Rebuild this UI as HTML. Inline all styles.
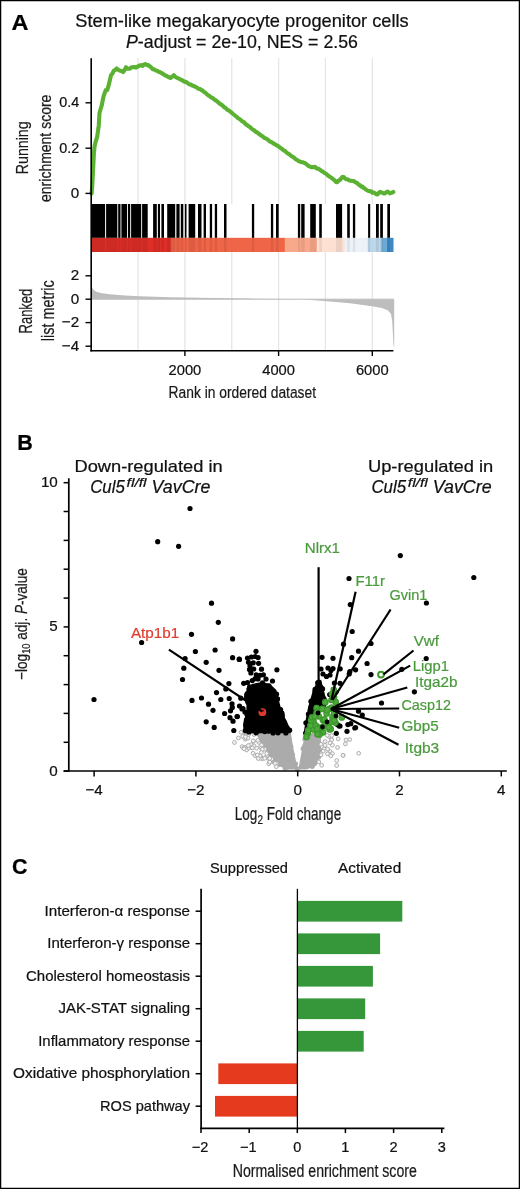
<!DOCTYPE html>
<html><head><meta charset="utf-8"><title>Figure</title>
<style>
html,body{margin:0;padding:0;background:#fff;}
body{width:520px;height:1189px;overflow:hidden;}
svg{display:block;font-family:"Liberation Sans","DejaVu Sans",sans-serif;}
</style></head><body>
<svg width="520" height="1189" viewBox="0 0 520 1189">
<rect x="0" y="0" width="520" height="1189" fill="#fff"/>
<line x1="138.1" y1="58" x2="138.1" y2="204" stroke="#e6e6e6" stroke-width="1.3"/>
<line x1="138.1" y1="252" x2="138.1" y2="350" stroke="#e6e6e6" stroke-width="1.3"/>
<line x1="184.9" y1="58" x2="184.9" y2="204" stroke="#e6e6e6" stroke-width="1.3"/>
<line x1="184.9" y1="252" x2="184.9" y2="350" stroke="#e6e6e6" stroke-width="1.3"/>
<line x1="231.8" y1="58" x2="231.8" y2="204" stroke="#e6e6e6" stroke-width="1.3"/>
<line x1="231.8" y1="252" x2="231.8" y2="350" stroke="#e6e6e6" stroke-width="1.3"/>
<line x1="278.6" y1="58" x2="278.6" y2="204" stroke="#e6e6e6" stroke-width="1.3"/>
<line x1="278.6" y1="252" x2="278.6" y2="350" stroke="#e6e6e6" stroke-width="1.3"/>
<line x1="325.4" y1="58" x2="325.4" y2="204" stroke="#e6e6e6" stroke-width="1.3"/>
<line x1="325.4" y1="252" x2="325.4" y2="350" stroke="#e6e6e6" stroke-width="1.3"/>
<line x1="372.3" y1="58" x2="372.3" y2="204" stroke="#e6e6e6" stroke-width="1.3"/>
<line x1="372.3" y1="252" x2="372.3" y2="350" stroke="#e6e6e6" stroke-width="1.3"/>
<rect x="92" y="237.8" width="79.00" height="14.2" fill="#de2e27"/>
<rect x="170.7" y="237.8" width="114.40" height="14.2" fill="#ef6548"/>
<rect x="284.8" y="237.8" width="32.50" height="14.2" fill="#f8a98b"/>
<rect x="317" y="237.8" width="27.90" height="14.2" fill="#fde0d2"/>
<rect x="344.6" y="237.8" width="23.40" height="14.2" fill="#edf2f9"/>
<rect x="367.7" y="237.8" width="14.10" height="14.2" fill="#bcd6ea"/>
<rect x="381.5" y="237.8" width="5.80" height="14.2" fill="#6aaad6"/>
<rect x="387" y="237.8" width="6.50" height="14.2" fill="#3f88c4"/>
<rect x="92" y="204" width="13.10" height="33.8" fill="#000"/>
<rect x="106.1" y="204" width="11.20" height="33.8" fill="#000"/>
<rect x="118.2" y="204" width="2.30" height="33.8" fill="#000"/>
<rect x="121.4" y="204" width="5.70" height="33.8" fill="#000"/>
<rect x="128" y="204" width="2.20" height="33.8" fill="#000"/>
<rect x="131.1" y="204" width="10.10" height="33.8" fill="#000"/>
<rect x="142.1" y="204" width="5.60" height="33.8" fill="#000"/>
<rect x="153.1" y="204" width="3.70" height="33.8" fill="#000"/>
<rect x="157.9" y="204" width="2.10" height="33.8" fill="#000"/>
<rect x="161.4" y="204" width="2.60" height="33.8" fill="#000"/>
<rect x="167.2" y="204" width="8.00" height="33.8" fill="#000"/>
<rect x="176.4" y="204" width="3.20" height="33.8" fill="#000"/>
<rect x="180.8" y="204" width="2.50" height="33.8" fill="#000"/>
<rect x="184.8" y="204" width="1.70" height="33.8" fill="#000"/>
<rect x="188.6" y="204" width="6.60" height="33.8" fill="#000"/>
<rect x="198" y="204" width="3.50" height="33.8" fill="#000"/>
<rect x="203.6" y="204" width="2.40" height="33.8" fill="#000"/>
<rect x="209.8" y="204" width="2.30" height="33.8" fill="#000"/>
<rect x="214.8" y="204" width="2.30" height="33.8" fill="#000"/>
<rect x="224" y="204" width="2.50" height="33.8" fill="#000"/>
<rect x="251.9" y="204" width="2.30" height="33.8" fill="#000"/>
<rect x="270.9" y="204" width="2.30" height="33.8" fill="#000"/>
<rect x="276" y="204" width="2.70" height="33.8" fill="#000"/>
<rect x="297.9" y="204" width="2.30" height="33.8" fill="#000"/>
<rect x="301.2" y="204" width="3.40" height="33.8" fill="#000"/>
<rect x="310.2" y="204" width="5.60" height="33.8" fill="#000"/>
<rect x="319.2" y="204" width="2.60" height="33.8" fill="#000"/>
<rect x="336" y="204" width="6.10" height="33.8" fill="#000"/>
<rect x="347.2" y="204" width="2.60" height="33.8" fill="#000"/>
<rect x="352.9" y="204" width="2.30" height="33.8" fill="#000"/>
<rect x="368.1" y="204" width="2.10" height="33.8" fill="#000"/>
<rect x="376" y="204" width="2.80" height="33.8" fill="#000"/>
<rect x="380.2" y="204" width="2.70" height="33.8" fill="#000"/>
<rect x="387.3" y="204" width="2.70" height="33.8" fill="#000"/>
<rect x="92" y="237.8" width="13.10" height="14.2" fill="#000" fill-opacity="0.07"/>
<rect x="106.1" y="237.8" width="11.20" height="14.2" fill="#000" fill-opacity="0.07"/>
<rect x="118.2" y="237.8" width="2.30" height="14.2" fill="#000" fill-opacity="0.07"/>
<rect x="121.4" y="237.8" width="5.70" height="14.2" fill="#000" fill-opacity="0.07"/>
<rect x="128" y="237.8" width="2.20" height="14.2" fill="#000" fill-opacity="0.07"/>
<rect x="131.1" y="237.8" width="10.10" height="14.2" fill="#000" fill-opacity="0.07"/>
<rect x="142.1" y="237.8" width="5.60" height="14.2" fill="#000" fill-opacity="0.07"/>
<rect x="153.1" y="237.8" width="3.70" height="14.2" fill="#000" fill-opacity="0.07"/>
<rect x="157.9" y="237.8" width="2.10" height="14.2" fill="#000" fill-opacity="0.07"/>
<rect x="161.4" y="237.8" width="2.60" height="14.2" fill="#000" fill-opacity="0.07"/>
<rect x="167.2" y="237.8" width="8.00" height="14.2" fill="#000" fill-opacity="0.07"/>
<rect x="176.4" y="237.8" width="3.20" height="14.2" fill="#000" fill-opacity="0.07"/>
<rect x="180.8" y="237.8" width="2.50" height="14.2" fill="#000" fill-opacity="0.07"/>
<rect x="184.8" y="237.8" width="1.70" height="14.2" fill="#000" fill-opacity="0.07"/>
<rect x="188.6" y="237.8" width="6.60" height="14.2" fill="#000" fill-opacity="0.07"/>
<rect x="198" y="237.8" width="3.50" height="14.2" fill="#000" fill-opacity="0.07"/>
<rect x="203.6" y="237.8" width="2.40" height="14.2" fill="#000" fill-opacity="0.07"/>
<rect x="209.8" y="237.8" width="2.30" height="14.2" fill="#000" fill-opacity="0.07"/>
<rect x="214.8" y="237.8" width="2.30" height="14.2" fill="#000" fill-opacity="0.07"/>
<rect x="224" y="237.8" width="2.50" height="14.2" fill="#000" fill-opacity="0.07"/>
<rect x="251.9" y="237.8" width="2.30" height="14.2" fill="#000" fill-opacity="0.07"/>
<rect x="270.9" y="237.8" width="2.30" height="14.2" fill="#000" fill-opacity="0.07"/>
<rect x="276" y="237.8" width="2.70" height="14.2" fill="#000" fill-opacity="0.07"/>
<rect x="297.9" y="237.8" width="2.30" height="14.2" fill="#000" fill-opacity="0.07"/>
<rect x="301.2" y="237.8" width="3.40" height="14.2" fill="#000" fill-opacity="0.07"/>
<rect x="310.2" y="237.8" width="5.60" height="14.2" fill="#000" fill-opacity="0.07"/>
<rect x="319.2" y="237.8" width="2.60" height="14.2" fill="#000" fill-opacity="0.07"/>
<rect x="336" y="237.8" width="6.10" height="14.2" fill="#000" fill-opacity="0.07"/>
<rect x="347.2" y="237.8" width="2.60" height="14.2" fill="#000" fill-opacity="0.07"/>
<rect x="352.9" y="237.8" width="2.30" height="14.2" fill="#000" fill-opacity="0.07"/>
<rect x="368.1" y="237.8" width="2.10" height="14.2" fill="#000" fill-opacity="0.07"/>
<rect x="376" y="237.8" width="2.80" height="14.2" fill="#000" fill-opacity="0.07"/>
<rect x="380.2" y="237.8" width="2.70" height="14.2" fill="#000" fill-opacity="0.07"/>
<rect x="387.3" y="237.8" width="2.70" height="14.2" fill="#000" fill-opacity="0.07"/>
<polygon points="91.5,285.8 92.5,288.2 94,290.2 97,292 102,293.2 110,294.3 125,295.5 140,296.3 170,297.2 200,297.8 250,298.6 290,299.1 305,299.4 330,301.4 350,303.2 372,306.2 382,308 388,310.5 391,314 392.3,322 393,335 393.6,346.5 394.2,346.5 394.2,299.2 91.5,299.2" fill="#bdbdbd"/>
<line x1="91.5" y1="299.2" x2="394" y2="299.2" stroke="#bdbdbd" stroke-width="1"/>
<polyline points="91.6,193.5 92.2,186.5 93.0,171.0 93.8,155.4 94.5,146.6 95.8,141.3 97.2,136.6 98.8,125.2 99.5,112.9 101.8,105.1 103.5,96.5 105.8,90.0 107.2,90.1 108.7,85.2 111.0,75.3 112.4,73.5 113.8,70.7 115.2,70.0 116.7,68.5 118.2,69.7 119.6,70.6 121.3,71.0 123.1,72.1 124.5,70.0 126.0,67.2 127.3,68.6 128.7,68.7 130.0,68.7 131.4,67.2 132.9,67.2 134.4,66.9 135.8,67.5 137.1,67.0 138.5,66.0 139.8,65.5 141.2,65.1 142.7,65.9 144.1,64.4 145.6,64.1 146.9,65.1 148.3,65.1 149.6,66.2 151.1,67.2 152.7,69.2 154.2,69.4 155.6,70.4 157.1,70.7 158.6,71.7 160.0,72.2 161.2,72.8 162.5,73.7 163.8,74.3 165.0,75.4 166.3,75.7 167.7,76.7 169.1,77.2 170.4,78.0 172.1,76.7 173.8,75.2 175.1,76.7 176.5,77.5 177.8,78.2 179.1,78.7 180.4,79.5 181.8,79.9 183.1,81.0 184.4,81.5 185.7,82.0 187.0,82.5 188.4,83.7 189.7,84.4 191.0,84.5 192.3,85.6 193.6,86.0 194.9,86.5 196.2,87.2 197.6,88.2 198.9,88.9 200.2,89.0 201.5,90.1 202.8,90.7 204.2,92.1 205.5,92.8 206.8,94.2 208.1,95.3 209.5,95.9 210.8,97.2 212.1,97.8 213.4,98.6 214.7,99.9 216.1,100.5 217.4,101.6 218.7,102.7 220.0,103.9 221.3,104.6 222.6,105.5 223.9,107.1 225.3,107.7 226.6,109.1 227.9,110.1 229.2,110.7 230.5,111.8 231.8,112.9 233.1,114.0 234.4,115.0 235.6,116.0 236.9,117.0 238.2,118.3 239.5,119.0 240.8,120.0 242.1,121.2 243.4,121.9 244.6,122.9 245.9,124.4 247.2,125.1 248.5,126.2 249.7,126.8 251.0,128.1 252.3,129.3 253.6,129.8 254.9,131.1 256.1,132.0 257.4,132.5 258.7,133.8 260.0,134.6 261.2,135.6 262.5,136.3 263.8,137.4 265.0,138.3 266.3,138.6 267.5,139.4 268.8,140.6 270.0,141.6 271.2,141.9 272.5,142.8 273.8,143.7 275.0,144.3 276.2,145.1 277.5,145.8 278.8,146.6 280.0,147.6 281.2,148.3 282.5,149.3 283.8,150.5 285.0,150.9 286.2,152.2 287.5,153.3 288.8,153.9 290.0,154.8 291.3,156.1 292.5,156.6 293.8,157.5 295.0,158.6 296.3,159.6 297.5,160.1 298.8,161.2 300.1,161.5 301.3,162.1 302.6,162.2 303.8,162.7 305.1,163.1 306.3,164.1 307.6,165.1 308.8,166.1 310.1,166.6 311.3,167.3 312.5,167.1 313.8,167.2 315.0,166.8 316.2,167.9 317.5,168.7 318.8,168.9 320.0,169.7 321.2,170.8 322.5,171.4 323.8,172.5 325.0,173.1 326.2,173.9 327.5,175.0 328.8,176.3 330.0,176.7 331.2,177.7 332.5,178.7 333.8,179.7 335.0,180.6 336.2,182.1 337.5,182.1 338.8,180.4 340.0,179.9 341.2,178.3 342.5,176.9 343.8,177.0 345.0,178.4 346.2,179.2 347.5,179.2 348.8,180.2 350.0,180.6 351.3,180.8 352.5,181.0 353.8,181.0 355.0,181.9 356.3,182.7 357.5,183.3 358.8,184.8 360.0,185.2 361.2,186.6 362.5,186.5 363.8,188.2 365.0,188.7 366.2,189.8 367.5,190.5 368.8,191.1 370.0,191.3 371.2,191.3 372.5,192.8 373.8,192.6 375.0,193.3 376.2,194.2 377.5,194.5 378.8,192.8 380.0,191.8 381.3,192.3 382.5,192.8 383.8,193.5 385.0,193.4 386.3,192.1 387.5,191.6 388.8,192.4 390.0,193.4 391.6,192.9 393.3,192.0" fill="none" stroke="#5bb132" stroke-width="4.1" stroke-linejoin="round" stroke-linecap="round"/>
<line x1="91.2" y1="58.3" x2="91.2" y2="351.5" stroke="#000" stroke-width="1.6"/>
<line x1="90.4" y1="350.8" x2="393.4" y2="350.8" stroke="#000" stroke-width="1.6"/>
<line x1="85.5" y1="102.8" x2="91.2" y2="102.8" stroke="#000" stroke-width="1.4"/>
<text x="79.2" y="107.1" font-size="15.2" text-anchor="end" fill="#111" textLength="20" lengthAdjust="spacingAndGlyphs"  style="" stroke="#111" stroke-width="0.22">0.4</text>
<line x1="85.5" y1="148.2" x2="91.2" y2="148.2" stroke="#000" stroke-width="1.4"/>
<text x="79.2" y="152.5" font-size="15.2" text-anchor="end" fill="#111" textLength="20" lengthAdjust="spacingAndGlyphs"  style="" stroke="#111" stroke-width="0.22">0.2</text>
<line x1="85.5" y1="193.4" x2="91.2" y2="193.4" stroke="#000" stroke-width="1.4"/>
<text x="79.2" y="197.7" font-size="15.2" text-anchor="end" fill="#111"  style="" stroke="#111" stroke-width="0.22">0</text>
<line x1="85.5" y1="275.8" x2="91.2" y2="275.8" stroke="#000" stroke-width="1.4"/>
<text x="79.2" y="280.1" font-size="15.2" text-anchor="end" fill="#111"  style="" stroke="#111" stroke-width="0.22">2</text>
<line x1="85.5" y1="299.2" x2="91.2" y2="299.2" stroke="#000" stroke-width="1.4"/>
<text x="79.2" y="303.5" font-size="15.2" text-anchor="end" fill="#111"  style="" stroke="#111" stroke-width="0.22">0</text>
<line x1="85.5" y1="322.6" x2="91.2" y2="322.6" stroke="#000" stroke-width="1.4"/>
<text x="79.2" y="326.9" font-size="15.2" text-anchor="end" fill="#111"  style="" stroke="#111" stroke-width="0.22">−2</text>
<line x1="85.5" y1="346.2" x2="91.2" y2="346.2" stroke="#000" stroke-width="1.4"/>
<text x="79.2" y="350.5" font-size="15.2" text-anchor="end" fill="#111"  style="" stroke="#111" stroke-width="0.22">−4</text>
<line x1="184.9" y1="350.8" x2="184.9" y2="356" stroke="#000" stroke-width="1.4"/>
<text x="184.9" y="374.7" font-size="15.2" text-anchor="middle" fill="#111" textLength="32.7" lengthAdjust="spacingAndGlyphs"  style="" stroke="#111" stroke-width="0.22">2000</text>
<line x1="278.6" y1="350.8" x2="278.6" y2="356" stroke="#000" stroke-width="1.4"/>
<text x="278.6" y="374.7" font-size="15.2" text-anchor="middle" fill="#111" textLength="32.7" lengthAdjust="spacingAndGlyphs"  style="" stroke="#111" stroke-width="0.22">4000</text>
<line x1="372.3" y1="350.8" x2="372.3" y2="356" stroke="#000" stroke-width="1.4"/>
<text x="372.3" y="374.7" font-size="15.2" text-anchor="middle" fill="#111" textLength="32.7" lengthAdjust="spacingAndGlyphs"  style="" stroke="#111" stroke-width="0.22">6000</text>
<text x="242.3" y="398.4" font-size="17.4" text-anchor="middle" fill="#1a1a1a" textLength="147.5" lengthAdjust="spacingAndGlyphs"  style="" stroke="#1a1a1a" stroke-width="0.22">Rank in ordered dataset</text>
<text transform="translate(27.6,147.8) rotate(-90)" font-size="17.4" text-anchor="middle" fill="#1a1a1a" textLength="53" lengthAdjust="spacingAndGlyphs" stroke="#1a1a1a" stroke-width="0.22">Running</text>
<text transform="translate(50.8,148.3) rotate(-90)" font-size="16.5" text-anchor="middle" fill="#1a1a1a" textLength="107.3" lengthAdjust="spacingAndGlyphs" stroke="#1a1a1a" stroke-width="0.22">enrichment score</text>
<text transform="translate(32.3,311.1) rotate(-90)" font-size="18" text-anchor="middle" fill="#1a1a1a" textLength="44.7" lengthAdjust="spacingAndGlyphs" stroke="#1a1a1a" stroke-width="0.22">Ranked</text>
<text transform="translate(53.9,310.8) rotate(-90)" font-size="18.5" text-anchor="middle" fill="#1a1a1a" textLength="60.8" lengthAdjust="spacingAndGlyphs" stroke="#1a1a1a" stroke-width="0.22">list metric</text>
<text x="242" y="27" font-size="18.2" text-anchor="middle" fill="#111" textLength="333.4" lengthAdjust="spacingAndGlyphs"  style="" stroke="#111" stroke-width="0.22">Stem-like megakaryocyte progenitor cells</text>
<text x="242" y="48" font-size="18.2" text-anchor="middle" fill="#111" textLength="232" lengthAdjust="spacingAndGlyphs" stroke="#111" stroke-width="0.22"><tspan font-style="italic">P</tspan>-adjust = 2e-10, NES = 2.56</text>
<text x="11.6" y="29.8" font-size="21.5" text-anchor="start" fill="#000" textLength="17" lengthAdjust="spacingAndGlyphs" font-weight="bold" style="" stroke="#000" stroke-width="0.22">A</text>
<polygon points="255.5,732 290.7,732 292.8,745.3 295.7,759.7 297.6,769.6 285.6,769.6 279.8,766 272.6,762 268.3,755.4 261,744" fill="#ababab"/>
<polygon points="305,733 320.9,733 321,745 320.1,756.9 316.5,765.5 306.4,769.6 298.3,769.6" fill="#ababab"/>
<circle cx="274.5" cy="753.0" r="2.3" fill="#ababab"/>
<circle cx="276.9" cy="754.1" r="2.3" fill="#ababab"/>
<circle cx="282.0" cy="761.8" r="2.3" fill="#ababab"/>
<circle cx="284.7" cy="733.6" r="2.3" fill="#ababab"/>
<circle cx="296.9" cy="768.3" r="2.3" fill="#ababab"/>
<circle cx="283.0" cy="755.1" r="2.3" fill="#ababab"/>
<circle cx="262.1" cy="732.6" r="2.3" fill="#ababab"/>
<circle cx="277.7" cy="734.2" r="2.3" fill="#ababab"/>
<circle cx="263.5" cy="741.1" r="2.3" fill="#ababab"/>
<circle cx="277.4" cy="756.1" r="2.3" fill="#ababab"/>
<circle cx="276.5" cy="756.9" r="2.3" fill="#ababab"/>
<circle cx="274.8" cy="742.5" r="2.3" fill="#ababab"/>
<circle cx="297.5" cy="769.4" r="2.3" fill="#ababab"/>
<circle cx="290.9" cy="758.6" r="2.3" fill="#ababab"/>
<circle cx="268.8" cy="740.6" r="2.3" fill="#ababab"/>
<circle cx="267.7" cy="734.6" r="2.3" fill="#ababab"/>
<circle cx="287.8" cy="747.1" r="2.3" fill="#ababab"/>
<circle cx="291.1" cy="746.5" r="2.3" fill="#ababab"/>
<circle cx="295.8" cy="763.9" r="2.3" fill="#ababab"/>
<circle cx="288.3" cy="742.1" r="2.3" fill="#ababab"/>
<circle cx="260.5" cy="741.3" r="2.3" fill="#ababab"/>
<circle cx="259.8" cy="734.3" r="2.3" fill="#ababab"/>
<circle cx="289.1" cy="738.7" r="2.3" fill="#ababab"/>
<circle cx="279.0" cy="748.8" r="2.3" fill="#ababab"/>
<circle cx="264.5" cy="742.1" r="2.3" fill="#ababab"/>
<circle cx="264.4" cy="746.8" r="2.3" fill="#ababab"/>
<circle cx="291.5" cy="756.1" r="2.3" fill="#ababab"/>
<circle cx="264.5" cy="741.7" r="2.3" fill="#ababab"/>
<circle cx="288.0" cy="744.4" r="2.3" fill="#ababab"/>
<circle cx="268.0" cy="734.8" r="2.3" fill="#ababab"/>
<circle cx="271.1" cy="749.0" r="2.3" fill="#ababab"/>
<circle cx="279.7" cy="764.6" r="2.3" fill="#ababab"/>
<circle cx="263.2" cy="737.8" r="2.3" fill="#ababab"/>
<circle cx="293.7" cy="762.7" r="2.3" fill="#ababab"/>
<circle cx="266.0" cy="739.1" r="2.3" fill="#ababab"/>
<circle cx="286.6" cy="767.4" r="2.3" fill="#ababab"/>
<circle cx="292.6" cy="754.7" r="2.3" fill="#ababab"/>
<circle cx="273.2" cy="735.9" r="2.3" fill="#ababab"/>
<circle cx="280.6" cy="743.0" r="2.3" fill="#ababab"/>
<circle cx="279.0" cy="764.1" r="2.3" fill="#ababab"/>
<circle cx="281.4" cy="742.5" r="2.3" fill="#ababab"/>
<circle cx="274.3" cy="734.3" r="2.3" fill="#ababab"/>
<circle cx="262.9" cy="745.9" r="2.3" fill="#ababab"/>
<circle cx="279.6" cy="736.9" r="2.3" fill="#ababab"/>
<circle cx="284.6" cy="754.0" r="2.3" fill="#ababab"/>
<circle cx="261.4" cy="733.3" r="2.3" fill="#ababab"/>
<circle cx="285.0" cy="768.2" r="2.3" fill="#ababab"/>
<circle cx="275.8" cy="759.5" r="2.3" fill="#ababab"/>
<circle cx="286.5" cy="765.8" r="2.3" fill="#ababab"/>
<circle cx="286.5" cy="758.5" r="2.3" fill="#ababab"/>
<circle cx="288.9" cy="766.4" r="2.3" fill="#ababab"/>
<circle cx="270.3" cy="757.8" r="2.3" fill="#ababab"/>
<circle cx="293.4" cy="764.8" r="2.3" fill="#ababab"/>
<circle cx="273.1" cy="761.7" r="2.3" fill="#ababab"/>
<circle cx="291.9" cy="753.5" r="2.3" fill="#ababab"/>
<circle cx="281.8" cy="746.4" r="2.3" fill="#ababab"/>
<circle cx="280.0" cy="754.9" r="2.3" fill="#ababab"/>
<circle cx="286.2" cy="746.6" r="2.3" fill="#ababab"/>
<circle cx="286.4" cy="753.8" r="2.3" fill="#ababab"/>
<circle cx="275.7" cy="740.7" r="2.3" fill="#ababab"/>
<circle cx="314.2" cy="751.2" r="2.3" fill="#ababab"/>
<circle cx="312.2" cy="766.7" r="2.3" fill="#ababab"/>
<circle cx="305.1" cy="757.8" r="2.3" fill="#ababab"/>
<circle cx="318.9" cy="757.2" r="2.3" fill="#ababab"/>
<circle cx="308.3" cy="765.6" r="2.3" fill="#ababab"/>
<circle cx="305.7" cy="757.4" r="2.3" fill="#ababab"/>
<circle cx="302.8" cy="748.8" r="2.3" fill="#ababab"/>
<circle cx="318.3" cy="747.1" r="2.3" fill="#ababab"/>
<circle cx="311.5" cy="744.6" r="2.3" fill="#ababab"/>
<circle cx="304.6" cy="739.2" r="2.3" fill="#ababab"/>
<circle cx="308.5" cy="743.1" r="2.3" fill="#ababab"/>
<circle cx="303.2" cy="748.2" r="2.3" fill="#ababab"/>
<circle cx="312.5" cy="751.1" r="2.3" fill="#ababab"/>
<circle cx="305.5" cy="763.7" r="2.3" fill="#ababab"/>
<circle cx="320.6" cy="749.6" r="2.3" fill="#ababab"/>
<circle cx="318.1" cy="734.5" r="2.3" fill="#ababab"/>
<circle cx="314.4" cy="753.9" r="2.3" fill="#ababab"/>
<circle cx="305.3" cy="762.0" r="2.3" fill="#ababab"/>
<circle cx="308.6" cy="733.9" r="2.3" fill="#ababab"/>
<circle cx="317.1" cy="741.7" r="2.3" fill="#ababab"/>
<circle cx="312.6" cy="749.3" r="2.3" fill="#ababab"/>
<circle cx="312.6" cy="757.0" r="2.3" fill="#ababab"/>
<circle cx="313.8" cy="740.3" r="2.3" fill="#ababab"/>
<circle cx="309.1" cy="739.5" r="2.3" fill="#ababab"/>
<circle cx="314.5" cy="739.6" r="2.3" fill="#ababab"/>
<circle cx="304.5" cy="745.7" r="2.3" fill="#ababab"/>
<circle cx="314.1" cy="752.0" r="2.3" fill="#ababab"/>
<circle cx="312.2" cy="760.7" r="2.3" fill="#ababab"/>
<circle cx="307.2" cy="762.0" r="2.3" fill="#ababab"/>
<circle cx="318.9" cy="736.2" r="2.3" fill="#ababab"/>
<circle cx="312.5" cy="766.3" r="2.3" fill="#ababab"/>
<circle cx="306.9" cy="753.8" r="2.3" fill="#ababab"/>
<circle cx="319.7" cy="750.0" r="2.3" fill="#ababab"/>
<circle cx="313.1" cy="740.5" r="2.3" fill="#ababab"/>
<circle cx="314.7" cy="763.0" r="2.3" fill="#ababab"/>
<circle cx="312.9" cy="759.3" r="2.3" fill="#ababab"/>
<circle cx="303.1" cy="765.9" r="2.3" fill="#ababab"/>
<circle cx="310.5" cy="761.9" r="2.3" fill="#ababab"/>
<circle cx="305.6" cy="766.3" r="2.3" fill="#ababab"/>
<circle cx="317.7" cy="745.8" r="2.3" fill="#ababab"/>
<circle cx="262.4" cy="758.7" r="1.9" fill="#f4f4f4" stroke="#ababab" stroke-width="0.95"/>
<circle cx="242.7" cy="736.4" r="1.9" fill="#f4f4f4" stroke="#ababab" stroke-width="0.95"/>
<circle cx="260.8" cy="757.0" r="1.9" fill="#f4f4f4" stroke="#ababab" stroke-width="0.95"/>
<circle cx="246.6" cy="750.0" r="1.9" fill="#f4f4f4" stroke="#ababab" stroke-width="0.95"/>
<circle cx="251.0" cy="744.7" r="1.9" fill="#f4f4f4" stroke="#ababab" stroke-width="0.95"/>
<circle cx="276.6" cy="763.4" r="1.9" fill="#f4f4f4" stroke="#ababab" stroke-width="0.95"/>
<circle cx="261.7" cy="749.1" r="1.9" fill="#f4f4f4" stroke="#ababab" stroke-width="0.95"/>
<circle cx="263.0" cy="748.7" r="1.9" fill="#f4f4f4" stroke="#ababab" stroke-width="0.95"/>
<circle cx="261.9" cy="745.9" r="1.9" fill="#f4f4f4" stroke="#ababab" stroke-width="0.95"/>
<circle cx="248.9" cy="748.0" r="1.9" fill="#f4f4f4" stroke="#ababab" stroke-width="0.95"/>
<circle cx="242.1" cy="746.6" r="1.9" fill="#f4f4f4" stroke="#ababab" stroke-width="0.95"/>
<circle cx="275.2" cy="763.4" r="1.9" fill="#f4f4f4" stroke="#ababab" stroke-width="0.95"/>
<circle cx="258.9" cy="742.4" r="1.9" fill="#f4f4f4" stroke="#ababab" stroke-width="0.95"/>
<circle cx="245.3" cy="739.2" r="1.9" fill="#f4f4f4" stroke="#ababab" stroke-width="0.95"/>
<circle cx="253.1" cy="753.3" r="1.9" fill="#f4f4f4" stroke="#ababab" stroke-width="0.95"/>
<circle cx="248.0" cy="738.1" r="1.9" fill="#f4f4f4" stroke="#ababab" stroke-width="0.95"/>
<circle cx="261.5" cy="746.7" r="1.9" fill="#f4f4f4" stroke="#ababab" stroke-width="0.95"/>
<circle cx="254.0" cy="745.9" r="1.9" fill="#f4f4f4" stroke="#ababab" stroke-width="0.95"/>
<circle cx="271.6" cy="760.2" r="1.9" fill="#f4f4f4" stroke="#ababab" stroke-width="0.95"/>
<circle cx="248.5" cy="734.5" r="1.9" fill="#f4f4f4" stroke="#ababab" stroke-width="0.95"/>
<circle cx="255.3" cy="755.7" r="1.9" fill="#f4f4f4" stroke="#ababab" stroke-width="0.95"/>
<circle cx="268.8" cy="763.8" r="1.9" fill="#f4f4f4" stroke="#ababab" stroke-width="0.95"/>
<circle cx="260.3" cy="758.3" r="1.9" fill="#f4f4f4" stroke="#ababab" stroke-width="0.95"/>
<circle cx="260.1" cy="755.7" r="1.9" fill="#f4f4f4" stroke="#ababab" stroke-width="0.95"/>
<circle cx="245.1" cy="733.5" r="1.9" fill="#f4f4f4" stroke="#ababab" stroke-width="0.95"/>
<circle cx="241.1" cy="732.3" r="1.9" fill="#f4f4f4" stroke="#ababab" stroke-width="0.95"/>
<circle cx="262.5" cy="749.5" r="1.9" fill="#f4f4f4" stroke="#ababab" stroke-width="0.95"/>
<circle cx="244.9" cy="738.3" r="1.9" fill="#f4f4f4" stroke="#ababab" stroke-width="0.95"/>
<circle cx="276.3" cy="766.7" r="1.9" fill="#f4f4f4" stroke="#ababab" stroke-width="0.95"/>
<circle cx="258.2" cy="758.5" r="1.9" fill="#f4f4f4" stroke="#ababab" stroke-width="0.95"/>
<circle cx="251.7" cy="747.8" r="1.9" fill="#f4f4f4" stroke="#ababab" stroke-width="0.95"/>
<circle cx="260.7" cy="746.5" r="1.9" fill="#f4f4f4" stroke="#ababab" stroke-width="0.95"/>
<circle cx="269.6" cy="761.4" r="1.9" fill="#f4f4f4" stroke="#ababab" stroke-width="0.95"/>
<circle cx="244.7" cy="747.3" r="1.9" fill="#f4f4f4" stroke="#ababab" stroke-width="0.95"/>
<circle cx="245.4" cy="736.9" r="1.9" fill="#f4f4f4" stroke="#ababab" stroke-width="0.95"/>
<circle cx="269.8" cy="762.0" r="1.9" fill="#f4f4f4" stroke="#ababab" stroke-width="0.95"/>
<circle cx="264.8" cy="749.2" r="1.9" fill="#f4f4f4" stroke="#ababab" stroke-width="0.95"/>
<circle cx="271.7" cy="759.0" r="1.9" fill="#f4f4f4" stroke="#ababab" stroke-width="0.95"/>
<circle cx="269.4" cy="758.6" r="1.9" fill="#f4f4f4" stroke="#ababab" stroke-width="0.95"/>
<circle cx="252.4" cy="747.9" r="1.9" fill="#f4f4f4" stroke="#ababab" stroke-width="0.95"/>
<circle cx="266.7" cy="753.5" r="1.9" fill="#f4f4f4" stroke="#ababab" stroke-width="0.95"/>
<circle cx="261.6" cy="745.0" r="1.9" fill="#f4f4f4" stroke="#ababab" stroke-width="0.95"/>
<circle cx="269.7" cy="758.4" r="1.9" fill="#f4f4f4" stroke="#ababab" stroke-width="0.95"/>
<circle cx="265.5" cy="757.6" r="1.9" fill="#f4f4f4" stroke="#ababab" stroke-width="0.95"/>
<circle cx="248.3" cy="745.5" r="1.9" fill="#f4f4f4" stroke="#ababab" stroke-width="0.95"/>
<circle cx="238.4" cy="738.0" r="1.9" fill="#f4f4f4" stroke="#ababab" stroke-width="0.95"/>
<circle cx="254.0" cy="734.5" r="1.9" fill="#f4f4f4" stroke="#ababab" stroke-width="0.95"/>
<circle cx="262.4" cy="749.3" r="1.9" fill="#f4f4f4" stroke="#ababab" stroke-width="0.95"/>
<circle cx="264.7" cy="758.3" r="1.9" fill="#f4f4f4" stroke="#ababab" stroke-width="0.95"/>
<circle cx="243.7" cy="748.0" r="1.9" fill="#f4f4f4" stroke="#ababab" stroke-width="0.95"/>
<circle cx="244.1" cy="748.8" r="1.9" fill="#f4f4f4" stroke="#ababab" stroke-width="0.95"/>
<circle cx="261.3" cy="752.5" r="1.9" fill="#f4f4f4" stroke="#ababab" stroke-width="0.95"/>
<circle cx="253.5" cy="741.3" r="1.9" fill="#f4f4f4" stroke="#ababab" stroke-width="0.95"/>
<circle cx="250.2" cy="731.5" r="1.9" fill="#f4f4f4" stroke="#ababab" stroke-width="0.95"/>
<circle cx="247.8" cy="732.5" r="1.9" fill="#f4f4f4" stroke="#ababab" stroke-width="0.95"/>
<circle cx="256.6" cy="748.2" r="1.9" fill="#f4f4f4" stroke="#ababab" stroke-width="0.95"/>
<circle cx="245.8" cy="732.9" r="1.9" fill="#f4f4f4" stroke="#ababab" stroke-width="0.95"/>
<circle cx="257.3" cy="755.0" r="1.9" fill="#f4f4f4" stroke="#ababab" stroke-width="0.95"/>
<circle cx="257.9" cy="740.4" r="1.9" fill="#f4f4f4" stroke="#ababab" stroke-width="0.95"/>
<circle cx="253.2" cy="740.8" r="1.9" fill="#f4f4f4" stroke="#ababab" stroke-width="0.95"/>
<circle cx="330.0" cy="751.6" r="1.9" fill="#f4f4f4" stroke="#ababab" stroke-width="0.95"/>
<circle cx="328.2" cy="753.9" r="1.9" fill="#f4f4f4" stroke="#ababab" stroke-width="0.95"/>
<circle cx="331.3" cy="739.3" r="1.9" fill="#f4f4f4" stroke="#ababab" stroke-width="0.95"/>
<circle cx="321.7" cy="765.3" r="1.9" fill="#f4f4f4" stroke="#ababab" stroke-width="0.95"/>
<circle cx="322.1" cy="747.0" r="1.9" fill="#f4f4f4" stroke="#ababab" stroke-width="0.95"/>
<circle cx="328.8" cy="736.4" r="1.9" fill="#f4f4f4" stroke="#ababab" stroke-width="0.95"/>
<circle cx="327.3" cy="735.4" r="1.9" fill="#f4f4f4" stroke="#ababab" stroke-width="0.95"/>
<circle cx="327.5" cy="753.8" r="1.9" fill="#f4f4f4" stroke="#ababab" stroke-width="0.95"/>
<circle cx="324.1" cy="748.8" r="1.9" fill="#f4f4f4" stroke="#ababab" stroke-width="0.95"/>
<circle cx="321.0" cy="744.3" r="1.9" fill="#f4f4f4" stroke="#ababab" stroke-width="0.95"/>
<circle cx="332.4" cy="753.6" r="1.9" fill="#f4f4f4" stroke="#ababab" stroke-width="0.95"/>
<circle cx="331.6" cy="740.0" r="1.9" fill="#f4f4f4" stroke="#ababab" stroke-width="0.95"/>
<circle cx="325.1" cy="741.5" r="1.9" fill="#f4f4f4" stroke="#ababab" stroke-width="0.95"/>
<circle cx="332.4" cy="745.2" r="1.9" fill="#f4f4f4" stroke="#ababab" stroke-width="0.95"/>
<circle cx="323.2" cy="751.1" r="1.9" fill="#f4f4f4" stroke="#ababab" stroke-width="0.95"/>
<circle cx="325.1" cy="745.2" r="1.9" fill="#f4f4f4" stroke="#ababab" stroke-width="0.95"/>
<circle cx="318.8" cy="761.9" r="1.9" fill="#f4f4f4" stroke="#ababab" stroke-width="0.95"/>
<circle cx="327.7" cy="749.0" r="1.9" fill="#f4f4f4" stroke="#ababab" stroke-width="0.95"/>
<circle cx="330.0" cy="742.9" r="1.9" fill="#f4f4f4" stroke="#ababab" stroke-width="0.95"/>
<circle cx="331.7" cy="735.5" r="1.9" fill="#f4f4f4" stroke="#ababab" stroke-width="0.95"/>
<circle cx="321.1" cy="754.8" r="1.9" fill="#f4f4f4" stroke="#ababab" stroke-width="0.95"/>
<circle cx="330.8" cy="755.9" r="1.9" fill="#f4f4f4" stroke="#ababab" stroke-width="0.95"/>
<circle cx="338.2" cy="738.8" r="1.9" fill="#f4f4f4" stroke="#ababab" stroke-width="0.95"/>
<circle cx="337.5" cy="747.5" r="1.9" fill="#f4f4f4" stroke="#ababab" stroke-width="0.95"/>
<circle cx="343.2" cy="755.4" r="1.9" fill="#f4f4f4" stroke="#ababab" stroke-width="0.95"/>
<circle cx="345.4" cy="743.9" r="1.9" fill="#f4f4f4" stroke="#ababab" stroke-width="0.95"/>
<circle cx="349.7" cy="739.5" r="1.9" fill="#f4f4f4" stroke="#ababab" stroke-width="0.95"/>
<circle cx="336.7" cy="760.5" r="1.9" fill="#f4f4f4" stroke="#ababab" stroke-width="0.95"/>
<circle cx="336.7" cy="765.5" r="1.9" fill="#f4f4f4" stroke="#ababab" stroke-width="0.95"/>
<circle cx="358.7" cy="753.3" r="1.9" fill="#f4f4f4" stroke="#ababab" stroke-width="0.95"/>
<circle cx="234.5" cy="742.5" r="1.9" fill="#f4f4f4" stroke="#ababab" stroke-width="0.95"/>
<circle cx="346.0" cy="740.0" r="1.9" fill="#f4f4f4" stroke="#ababab" stroke-width="0.95"/>
<circle cx="343.0" cy="755.4" r="1.9" fill="#f4f4f4" stroke="#ababab" stroke-width="0.95"/>
<polygon points="246.4,688 252,684 262,682 270,684 276.4,690 279.8,703.8 282.2,713 286.8,721 289.6,728 290.2,733.3 244,733.3 243,725 244,719 246.4,714 246.4,698" fill="#000"/>
<circle cx="256.4" cy="689.3" r="2.6" fill="#000"/>
<circle cx="259.9" cy="719.2" r="2.6" fill="#000"/>
<circle cx="260.3" cy="688.0" r="2.6" fill="#000"/>
<circle cx="276.5" cy="711.2" r="2.6" fill="#000"/>
<circle cx="286.4" cy="730.2" r="2.6" fill="#000"/>
<circle cx="258.0" cy="702.5" r="2.6" fill="#000"/>
<circle cx="287.1" cy="727.9" r="2.6" fill="#000"/>
<circle cx="254.7" cy="700.6" r="2.6" fill="#000"/>
<circle cx="260.3" cy="700.6" r="2.6" fill="#000"/>
<circle cx="261.7" cy="701.9" r="2.6" fill="#000"/>
<circle cx="252.2" cy="710.9" r="2.6" fill="#000"/>
<circle cx="280.6" cy="709.7" r="2.6" fill="#000"/>
<circle cx="251.3" cy="720.9" r="2.6" fill="#000"/>
<circle cx="268.7" cy="711.1" r="2.6" fill="#000"/>
<circle cx="268.8" cy="722.4" r="2.6" fill="#000"/>
<circle cx="277.8" cy="728.1" r="2.6" fill="#000"/>
<circle cx="247.0" cy="714.5" r="2.6" fill="#000"/>
<circle cx="249.8" cy="720.3" r="2.6" fill="#000"/>
<circle cx="273.6" cy="694.6" r="2.6" fill="#000"/>
<circle cx="253.4" cy="721.3" r="2.6" fill="#000"/>
<circle cx="267.6" cy="721.2" r="2.6" fill="#000"/>
<circle cx="261.6" cy="699.3" r="2.6" fill="#000"/>
<circle cx="266.3" cy="709.6" r="2.6" fill="#000"/>
<circle cx="277.0" cy="718.3" r="2.6" fill="#000"/>
<circle cx="282.0" cy="716.2" r="2.6" fill="#000"/>
<circle cx="283.3" cy="723.3" r="2.6" fill="#000"/>
<circle cx="282.4" cy="727.6" r="2.6" fill="#000"/>
<circle cx="267.7" cy="718.4" r="2.6" fill="#000"/>
<circle cx="262.8" cy="689.5" r="2.6" fill="#000"/>
<circle cx="278.0" cy="732.8" r="2.6" fill="#000"/>
<circle cx="260.7" cy="690.6" r="2.6" fill="#000"/>
<circle cx="252.6" cy="703.8" r="2.6" fill="#000"/>
<circle cx="256.8" cy="731.7" r="2.6" fill="#000"/>
<circle cx="248.4" cy="715.2" r="2.6" fill="#000"/>
<circle cx="270.6" cy="728.6" r="2.6" fill="#000"/>
<circle cx="251.7" cy="693.2" r="2.6" fill="#000"/>
<circle cx="254.1" cy="718.8" r="2.6" fill="#000"/>
<circle cx="271.1" cy="693.5" r="2.6" fill="#000"/>
<circle cx="251.7" cy="696.4" r="2.6" fill="#000"/>
<circle cx="251.1" cy="720.9" r="2.6" fill="#000"/>
<circle cx="257.7" cy="710.1" r="2.6" fill="#000"/>
<circle cx="255.3" cy="727.5" r="2.6" fill="#000"/>
<circle cx="268.8" cy="731.1" r="2.6" fill="#000"/>
<circle cx="265.8" cy="693.3" r="2.6" fill="#000"/>
<circle cx="245.3" cy="730.6" r="2.6" fill="#000"/>
<circle cx="267.9" cy="708.5" r="2.6" fill="#000"/>
<circle cx="256.0" cy="732.8" r="2.6" fill="#000"/>
<circle cx="274.0" cy="694.2" r="2.6" fill="#000"/>
<circle cx="260.5" cy="722.9" r="2.6" fill="#000"/>
<circle cx="276.7" cy="713.1" r="2.6" fill="#000"/>
<circle cx="250.4" cy="690.0" r="2.6" fill="#000"/>
<circle cx="258.2" cy="695.3" r="2.6" fill="#000"/>
<circle cx="273.1" cy="732.9" r="2.6" fill="#000"/>
<circle cx="255.6" cy="709.4" r="2.6" fill="#000"/>
<circle cx="250.1" cy="721.5" r="2.6" fill="#000"/>
<circle cx="282.9" cy="724.2" r="2.6" fill="#000"/>
<circle cx="246.9" cy="695.8" r="2.6" fill="#000"/>
<circle cx="265.7" cy="706.0" r="2.6" fill="#000"/>
<circle cx="268.6" cy="709.0" r="2.6" fill="#000"/>
<circle cx="250.4" cy="724.7" r="2.6" fill="#000"/>
<circle cx="257.7" cy="697.9" r="2.6" fill="#000"/>
<circle cx="246.6" cy="697.7" r="2.6" fill="#000"/>
<circle cx="265.1" cy="718.7" r="2.6" fill="#000"/>
<circle cx="260.0" cy="717.2" r="2.6" fill="#000"/>
<circle cx="248.0" cy="702.2" r="2.6" fill="#000"/>
<circle cx="264.8" cy="731.6" r="2.6" fill="#000"/>
<circle cx="282.2" cy="715.5" r="2.6" fill="#000"/>
<circle cx="276.5" cy="694.2" r="2.6" fill="#000"/>
<circle cx="269.6" cy="705.5" r="2.6" fill="#000"/>
<circle cx="272.1" cy="696.9" r="2.6" fill="#000"/>
<circle cx="260.7" cy="709.7" r="2.6" fill="#000"/>
<circle cx="257.1" cy="699.3" r="2.6" fill="#000"/>
<circle cx="261.5" cy="716.2" r="2.6" fill="#000"/>
<circle cx="255.1" cy="692.3" r="2.6" fill="#000"/>
<circle cx="277.5" cy="698.9" r="2.6" fill="#000"/>
<circle cx="277.2" cy="699.0" r="2.6" fill="#000"/>
<circle cx="249.6" cy="686.8" r="2.6" fill="#000"/>
<circle cx="275.0" cy="718.3" r="2.6" fill="#000"/>
<circle cx="251.5" cy="702.6" r="2.6" fill="#000"/>
<circle cx="247.3" cy="693.6" r="2.6" fill="#000"/>
<circle cx="250.4" cy="688.4" r="2.6" fill="#000"/>
<circle cx="262.2" cy="685.7" r="2.6" fill="#000"/>
<circle cx="267.1" cy="715.2" r="2.6" fill="#000"/>
<circle cx="279.2" cy="724.1" r="2.6" fill="#000"/>
<circle cx="261.2" cy="699.0" r="2.6" fill="#000"/>
<circle cx="262.5" cy="682.8" r="2.6" fill="#000"/>
<circle cx="261.9" cy="717.9" r="2.6" fill="#000"/>
<circle cx="274.2" cy="713.2" r="2.6" fill="#000"/>
<circle cx="259.2" cy="715.4" r="2.6" fill="#000"/>
<circle cx="248.0" cy="701.4" r="2.6" fill="#000"/>
<circle cx="267.0" cy="722.5" r="2.6" fill="#000"/>
<circle cx="281.9" cy="713.4" r="2.6" fill="#000"/>
<circle cx="250.5" cy="721.3" r="2.6" fill="#000"/>
<circle cx="259.6" cy="707.7" r="2.6" fill="#000"/>
<circle cx="249.7" cy="718.6" r="2.6" fill="#000"/>
<circle cx="276.8" cy="724.9" r="2.6" fill="#000"/>
<circle cx="252.3" cy="730.5" r="2.6" fill="#000"/>
<circle cx="272.6" cy="692.2" r="2.6" fill="#000"/>
<circle cx="246.9" cy="694.5" r="2.6" fill="#000"/>
<circle cx="270.2" cy="717.8" r="2.6" fill="#000"/>
<circle cx="258.5" cy="729.7" r="2.6" fill="#000"/>
<circle cx="260.0" cy="705.8" r="2.6" fill="#000"/>
<circle cx="248.9" cy="731.9" r="2.6" fill="#000"/>
<circle cx="249.4" cy="728.4" r="2.6" fill="#000"/>
<circle cx="268.6" cy="710.8" r="2.6" fill="#000"/>
<circle cx="269.4" cy="695.6" r="2.6" fill="#000"/>
<circle cx="285.9" cy="732.9" r="2.6" fill="#000"/>
<circle cx="281.6" cy="712.9" r="2.6" fill="#000"/>
<circle cx="248.8" cy="724.3" r="2.6" fill="#000"/>
<circle cx="256.6" cy="728.0" r="2.6" fill="#000"/>
<circle cx="254.4" cy="711.4" r="2.6" fill="#000"/>
<circle cx="268.9" cy="685.9" r="2.6" fill="#000"/>
<circle cx="289.6" cy="730.2" r="2.6" fill="#000"/>
<circle cx="274.1" cy="697.8" r="2.6" fill="#000"/>
<circle cx="274.7" cy="719.8" r="2.6" fill="#000"/>
<circle cx="261.0" cy="712.4" r="2.6" fill="#000"/>
<circle cx="252.4" cy="706.0" r="2.6" fill="#000"/>
<circle cx="249.7" cy="701.8" r="2.6" fill="#000"/>
<circle cx="269.9" cy="690.9" r="2.6" fill="#000"/>
<circle cx="267.5" cy="695.5" r="2.6" fill="#000"/>
<circle cx="256" cy="651.3" r="2.6" fill="#000"/>
<circle cx="239.4" cy="659.4" r="2.6" fill="#000"/>
<circle cx="247.5" cy="658" r="2.6" fill="#000"/>
<circle cx="251.4" cy="657" r="2.6" fill="#000"/>
<circle cx="255.2" cy="656.5" r="2.6" fill="#000"/>
<circle cx="258.1" cy="657.5" r="2.6" fill="#000"/>
<circle cx="248.5" cy="662.3" r="2.6" fill="#000"/>
<circle cx="253.3" cy="662.8" r="2.6" fill="#000"/>
<circle cx="258.6" cy="663.3" r="2.6" fill="#000"/>
<circle cx="261.5" cy="669.2" r="2.6" fill="#000"/>
<circle cx="276.9" cy="669.8" r="2.6" fill="#000"/>
<circle cx="249.5" cy="669.5" r="2.6" fill="#000"/>
<circle cx="253.8" cy="669" r="2.6" fill="#000"/>
<circle cx="250.9" cy="672.9" r="2.6" fill="#000"/>
<circle cx="256.2" cy="674.8" r="2.6" fill="#000"/>
<circle cx="260" cy="675.3" r="2.6" fill="#000"/>
<circle cx="263.4" cy="674.8" r="2.6" fill="#000"/>
<circle cx="243.7" cy="683.3" r="2.6" fill="#000"/>
<circle cx="247.5" cy="682.5" r="2.6" fill="#000"/>
<circle cx="252.3" cy="680.6" r="2.6" fill="#000"/>
<circle cx="255.2" cy="678.7" r="2.6" fill="#000"/>
<circle cx="272.5" cy="681" r="2.6" fill="#000"/>
<circle cx="250" cy="666" r="2.6" fill="#000"/>
<circle cx="266" cy="679" r="2.6" fill="#000"/>
<circle cx="258" cy="679" r="2.6" fill="#000"/>
<circle cx="239.5" cy="706" r="2.6" fill="#000"/>
<circle cx="242" cy="709" r="2.6" fill="#000"/>
<circle cx="245" cy="712" r="2.6" fill="#000"/>
<circle cx="237.2" cy="716.5" r="2.6" fill="#000"/>
<circle cx="243" cy="708.5" r="2.6" fill="#000"/>
<polygon points="313,690 318,680 322,683 324,693 328,702 325,708 312,720 307,734 303.5,734 306,718 309,704" fill="#000"/>
<circle cx="317.4" cy="697.9" r="2.6" fill="#000"/>
<circle cx="319.2" cy="682.0" r="2.6" fill="#000"/>
<circle cx="319.9" cy="687.8" r="2.6" fill="#000"/>
<circle cx="315.0" cy="702.2" r="2.6" fill="#000"/>
<circle cx="313.5" cy="703.4" r="2.6" fill="#000"/>
<circle cx="316.4" cy="708.4" r="2.6" fill="#000"/>
<circle cx="321.9" cy="696.5" r="2.6" fill="#000"/>
<circle cx="318.0" cy="683.8" r="2.6" fill="#000"/>
<circle cx="315.8" cy="701.4" r="2.6" fill="#000"/>
<circle cx="316.4" cy="692.9" r="2.6" fill="#000"/>
<circle cx="311.0" cy="701.4" r="2.6" fill="#000"/>
<circle cx="308.9" cy="720.3" r="2.6" fill="#000"/>
<circle cx="305.9" cy="722.8" r="2.6" fill="#000"/>
<circle cx="313.2" cy="699.3" r="2.6" fill="#000"/>
<circle cx="317.8" cy="682.5" r="2.6" fill="#000"/>
<circle cx="311.0" cy="706.9" r="2.6" fill="#000"/>
<circle cx="315.1" cy="691.2" r="2.6" fill="#000"/>
<circle cx="324.0" cy="699.1" r="2.6" fill="#000"/>
<circle cx="315.1" cy="689.3" r="2.6" fill="#000"/>
<circle cx="308.4" cy="714.1" r="2.6" fill="#000"/>
<circle cx="308.2" cy="727.5" r="2.6" fill="#000"/>
<circle cx="321.3" cy="696.9" r="2.6" fill="#000"/>
<circle cx="321.0" cy="687.3" r="2.6" fill="#000"/>
<circle cx="320.9" cy="690.6" r="2.6" fill="#000"/>
<circle cx="312.6" cy="715.7" r="2.6" fill="#000"/>
<circle cx="310.3" cy="714.6" r="2.6" fill="#000"/>
<circle cx="305.7" cy="733.1" r="2.6" fill="#000"/>
<circle cx="314.3" cy="708.5" r="2.6" fill="#000"/>
<circle cx="318.2" cy="695.4" r="2.6" fill="#000"/>
<circle cx="309.6" cy="723.4" r="2.6" fill="#000"/>
<circle cx="322.0" cy="693.3" r="2.6" fill="#000"/>
<circle cx="310.3" cy="709.6" r="2.6" fill="#000"/>
<circle cx="308.1" cy="728.4" r="2.6" fill="#000"/>
<circle cx="315.7" cy="689.7" r="2.6" fill="#000"/>
<circle cx="317.1" cy="714.8" r="2.6" fill="#000"/>
<circle cx="312.3" cy="715.5" r="2.6" fill="#000"/>
<circle cx="322.7" cy="707.9" r="2.6" fill="#000"/>
<circle cx="320.3" cy="708.1" r="2.6" fill="#000"/>
<circle cx="322.6" cy="688.9" r="2.6" fill="#000"/>
<circle cx="318.4" cy="692.7" r="2.6" fill="#000"/>
<circle cx="190" cy="508.5" r="2.6" fill="#000"/>
<circle cx="157.7" cy="541.7" r="2.6" fill="#000"/>
<circle cx="178.6" cy="546.3" r="2.6" fill="#000"/>
<circle cx="211.5" cy="603.2" r="2.6" fill="#000"/>
<circle cx="218.3" cy="622.3" r="2.6" fill="#000"/>
<circle cx="191.5" cy="634.3" r="2.6" fill="#000"/>
<circle cx="141.6" cy="642.5" r="2.6" fill="#000"/>
<circle cx="94" cy="699.5" r="2.6" fill="#000"/>
<circle cx="195.4" cy="651.5" r="2.6" fill="#000"/>
<circle cx="215.1" cy="650" r="2.6" fill="#000"/>
<circle cx="185.1" cy="658.5" r="2.6" fill="#000"/>
<circle cx="206.2" cy="662.3" r="2.6" fill="#000"/>
<circle cx="183.8" cy="668.2" r="2.6" fill="#000"/>
<circle cx="219" cy="670.3" r="2.6" fill="#000"/>
<circle cx="182.5" cy="679.5" r="2.6" fill="#000"/>
<circle cx="216.5" cy="692.6" r="2.6" fill="#000"/>
<circle cx="201.5" cy="698" r="2.6" fill="#000"/>
<circle cx="192" cy="700.4" r="2.6" fill="#000"/>
<circle cx="208.5" cy="704.2" r="2.6" fill="#000"/>
<circle cx="213" cy="710.3" r="2.6" fill="#000"/>
<circle cx="220.8" cy="699.5" r="2.6" fill="#000"/>
<circle cx="232.6" cy="638.9" r="2.6" fill="#000"/>
<circle cx="232.6" cy="657.7" r="2.6" fill="#000"/>
<circle cx="239.2" cy="659.2" r="2.6" fill="#000"/>
<circle cx="228.9" cy="683.6" r="2.6" fill="#000"/>
<circle cx="225.8" cy="688.9" r="2.6" fill="#000"/>
<circle cx="229.2" cy="698.5" r="2.6" fill="#000"/>
<circle cx="240.8" cy="698.2" r="2.6" fill="#000"/>
<circle cx="232" cy="703.8" r="2.6" fill="#000"/>
<circle cx="232.3" cy="707.4" r="2.6" fill="#000"/>
<circle cx="230.5" cy="710.8" r="2.6" fill="#000"/>
<circle cx="224.6" cy="713.5" r="2.6" fill="#000"/>
<circle cx="237.2" cy="716.6" r="2.6" fill="#000"/>
<circle cx="230" cy="717.7" r="2.6" fill="#000"/>
<circle cx="233" cy="721.2" r="2.6" fill="#000"/>
<circle cx="206.2" cy="721.8" r="2.6" fill="#000"/>
<circle cx="214.2" cy="727.4" r="2.6" fill="#000"/>
<circle cx="233.8" cy="730.5" r="2.6" fill="#000"/>
<circle cx="400.3" cy="555.6" r="2.6" fill="#000"/>
<circle cx="473.8" cy="577.5" r="2.6" fill="#000"/>
<circle cx="349" cy="578.5" r="2.6" fill="#000"/>
<circle cx="426.4" cy="603" r="2.6" fill="#000"/>
<circle cx="350.3" cy="604.6" r="2.6" fill="#000"/>
<circle cx="352.2" cy="631.5" r="2.6" fill="#000"/>
<circle cx="343.5" cy="644.2" r="2.6" fill="#000"/>
<circle cx="371" cy="643.5" r="2.6" fill="#000"/>
<circle cx="358.5" cy="651.2" r="2.6" fill="#000"/>
<circle cx="426.2" cy="658.5" r="2.6" fill="#000"/>
<circle cx="401.8" cy="669.3" r="2.6" fill="#000"/>
<circle cx="414.4" cy="691.8" r="2.6" fill="#000"/>
<circle cx="381.5" cy="703" r="2.6" fill="#000"/>
<circle cx="322" cy="657.3" r="2.6" fill="#000"/>
<circle cx="333" cy="658.3" r="2.6" fill="#000"/>
<circle cx="351.7" cy="657.7" r="2.6" fill="#000"/>
<circle cx="367.1" cy="663.5" r="2.6" fill="#000"/>
<circle cx="371" cy="674.6" r="2.6" fill="#000"/>
<circle cx="321" cy="669" r="2.6" fill="#000"/>
<circle cx="328" cy="668" r="2.6" fill="#000"/>
<circle cx="331" cy="670.5" r="2.6" fill="#000"/>
<circle cx="333" cy="668.5" r="2.6" fill="#000"/>
<circle cx="340.2" cy="668.8" r="2.6" fill="#000"/>
<circle cx="349.8" cy="671.7" r="2.6" fill="#000"/>
<circle cx="355.6" cy="669.8" r="2.6" fill="#000"/>
<circle cx="349.2" cy="674" r="2.6" fill="#000"/>
<circle cx="323" cy="674" r="2.6" fill="#000"/>
<circle cx="326.5" cy="676.5" r="2.6" fill="#000"/>
<circle cx="330" cy="675" r="2.6" fill="#000"/>
<circle cx="334.4" cy="683" r="2.6" fill="#000"/>
<circle cx="340" cy="683.3" r="2.6" fill="#000"/>
<circle cx="329.7" cy="694.5" r="2.6" fill="#000"/>
<circle cx="358.5" cy="711.2" r="2.6" fill="#000"/>
<circle cx="362.3" cy="715" r="2.6" fill="#000"/>
<circle cx="347.9" cy="724.6" r="2.6" fill="#000"/>
<circle cx="350.8" cy="723.7" r="2.6" fill="#000"/>
<circle cx="355.6" cy="727.5" r="2.6" fill="#000"/>
<circle cx="337.3" cy="724.6" r="2.6" fill="#000"/>
<circle cx="336.3" cy="733.3" r="2.6" fill="#000"/>
<circle cx="347" cy="731.3" r="2.6" fill="#000"/>
<circle cx="340" cy="726" r="2.6" fill="#000"/>
<circle cx="339.2" cy="726" r="2.6" fill="#000"/>
<circle cx="332" cy="697" r="2.6" fill="#000"/>
<circle cx="336" cy="692" r="2.6" fill="#000"/>
<circle cx="354.8" cy="728" r="2.6" fill="#000"/>
<circle cx="318.9" cy="728.6" r="2.7" fill="#52a83f" stroke="#3a9a2a" stroke-width="1.3"/>
<circle cx="329.5" cy="729.3" r="2.7" fill="#52a83f" stroke="#3a9a2a" stroke-width="1.3"/>
<circle cx="312.7" cy="718.1" r="2.7" fill="#52a83f" stroke="#3a9a2a" stroke-width="1.3"/>
<circle cx="312.2" cy="721.5" r="2.7" fill="#52a83f" stroke="#3a9a2a" stroke-width="1.3"/>
<circle cx="323.7" cy="726.4" r="2.7" fill="#52a83f" stroke="#3a9a2a" stroke-width="1.3"/>
<circle cx="323.0" cy="732.3" r="2.7" fill="#52a83f" stroke="#3a9a2a" stroke-width="1.3"/>
<circle cx="318.8" cy="716.3" r="2.7" fill="#52a83f" stroke="#3a9a2a" stroke-width="1.3"/>
<circle cx="313.5" cy="729.5" r="2.7" fill="#52a83f" stroke="#3a9a2a" stroke-width="1.3"/>
<circle cx="307.7" cy="733.6" r="2.7" fill="#52a83f" stroke="#3a9a2a" stroke-width="1.3"/>
<circle cx="322.9" cy="720.1" r="2.7" fill="#52a83f" stroke="#3a9a2a" stroke-width="1.3"/>
<circle cx="329.6" cy="708.8" r="2.7" fill="#52a83f" stroke="#3a9a2a" stroke-width="1.3"/>
<circle cx="324.4" cy="719.4" r="2.7" fill="#52a83f" stroke="#3a9a2a" stroke-width="1.3"/>
<circle cx="313.6" cy="721.8" r="2.7" fill="#52a83f" stroke="#3a9a2a" stroke-width="1.3"/>
<circle cx="308.2" cy="730.4" r="2.7" fill="#52a83f" stroke="#3a9a2a" stroke-width="1.3"/>
<circle cx="310.4" cy="725.6" r="2.7" fill="#52a83f" stroke="#3a9a2a" stroke-width="1.3"/>
<circle cx="330.8" cy="729.1" r="2.7" fill="#52a83f" stroke="#3a9a2a" stroke-width="1.3"/>
<circle cx="316.6" cy="708.0" r="2.7" fill="#52a83f" stroke="#3a9a2a" stroke-width="1.3"/>
<circle cx="320.4" cy="728.2" r="2.7" fill="#52a83f" stroke="#3a9a2a" stroke-width="1.3"/>
<circle cx="319.4" cy="727.6" r="2.7" fill="#52a83f" stroke="#3a9a2a" stroke-width="1.3"/>
<circle cx="317.5" cy="711.0" r="2.7" fill="#52a83f" stroke="#3a9a2a" stroke-width="1.3"/>
<circle cx="306.5" cy="736.9" r="2.7" fill="#52a83f" stroke="#3a9a2a" stroke-width="1.3"/>
<circle cx="328.8" cy="727.2" r="2.7" fill="#52a83f" stroke="#3a9a2a" stroke-width="1.3"/>
<circle cx="322.3" cy="708.9" r="2.7" fill="#52a83f" stroke="#3a9a2a" stroke-width="1.3"/>
<circle cx="319.6" cy="734.5" r="2.7" fill="#52a83f" stroke="#3a9a2a" stroke-width="1.3"/>
<circle cx="316.6" cy="712.5" r="2.7" fill="#52a83f" stroke="#3a9a2a" stroke-width="1.3"/>
<circle cx="335.4" cy="722.6" r="2.7" fill="#52a83f" stroke="#3a9a2a" stroke-width="1.3"/>
<circle cx="325.3" cy="702.2" r="2.7" fill="#52a83f" stroke="#3a9a2a" stroke-width="1.3"/>
<circle cx="316.0" cy="725.7" r="2.7" fill="#52a83f" stroke="#3a9a2a" stroke-width="1.3"/>
<circle cx="331.9" cy="721.9" r="2.7" fill="#52a83f" stroke="#3a9a2a" stroke-width="1.3"/>
<circle cx="332.5" cy="717.1" r="2.7" fill="#52a83f" stroke="#3a9a2a" stroke-width="1.3"/>
<circle cx="317.5" cy="731.2" r="2.7" fill="#52a83f" stroke="#3a9a2a" stroke-width="1.3"/>
<circle cx="317.1" cy="728.9" r="2.7" fill="#52a83f" stroke="#3a9a2a" stroke-width="1.3"/>
<circle cx="311.1" cy="720.3" r="2.7" fill="#52a83f" stroke="#3a9a2a" stroke-width="1.3"/>
<circle cx="312.0" cy="717.3" r="2.7" fill="#52a83f" stroke="#3a9a2a" stroke-width="1.3"/>
<circle cx="314.9" cy="716.5" r="2.7" fill="#52a83f" stroke="#3a9a2a" stroke-width="1.3"/>
<circle cx="331.8" cy="707.6" r="2.7" fill="#52a83f" stroke="#3a9a2a" stroke-width="1.3"/>
<circle cx="326.6" cy="713.4" r="2.7" fill="#52a83f" stroke="#3a9a2a" stroke-width="1.3"/>
<circle cx="317.5" cy="734.2" r="2.7" fill="#52a83f" stroke="#3a9a2a" stroke-width="1.3"/>
<circle cx="327.3" cy="709.9" r="2.7" fill="#52a83f" stroke="#3a9a2a" stroke-width="1.3"/>
<circle cx="334.1" cy="713.3" r="2.7" fill="#52a83f" stroke="#3a9a2a" stroke-width="1.3"/>
<circle cx="333.7" cy="689.8" r="2.7" fill="#52a83f" stroke="#3a9a2a" stroke-width="1.3"/>
<circle cx="335.8" cy="702" r="2.7" fill="#52a83f" stroke="#3a9a2a" stroke-width="1.3"/>
<circle cx="341.8" cy="717.4" r="2.7" fill="#52a83f" stroke="#3a9a2a" stroke-width="1.3"/>
<circle cx="334.4" cy="720.2" r="2.7" fill="#52a83f" stroke="#3a9a2a" stroke-width="1.3"/>
<circle cx="332" cy="694" r="2.7" fill="#52a83f" stroke="#3a9a2a" stroke-width="1.3"/>
<circle cx="334" cy="697" r="2.7" fill="#52a83f" stroke="#3a9a2a" stroke-width="1.3"/>
<circle cx="331.5" cy="700" r="2.7" fill="#52a83f" stroke="#3a9a2a" stroke-width="1.3"/>
<circle cx="322.5" cy="727" r="2.4" fill="#000"/>
<circle cx="318" cy="713" r="2.4" fill="#000"/>
<circle cx="327" cy="722" r="2.4" fill="#000"/>
<circle cx="333.5" cy="709" r="2.4" fill="#000"/>
<circle cx="336" cy="716" r="2.4" fill="#000"/>
<circle cx="381" cy="674.6" r="2.9" fill="#fff" stroke="#3f9a2c" stroke-width="2"/>
<circle cx="262.4" cy="712.2" r="3.9" fill="#e03a30"/>
<circle cx="263" cy="710.6" r="1.2" fill="#6a1a10"/>
<line x1="168.9" y1="649.7" x2="262.3" y2="711.5" stroke="#000" stroke-width="2.2"/>
<line x1="318.6" y1="567.2" x2="318.6" y2="691" stroke="#000" stroke-width="2.2"/>
<line x1="355.6" y1="591.8" x2="331.5" y2="700" stroke="#000" stroke-width="2.2"/>
<line x1="390.6" y1="609.5" x2="332.5" y2="700" stroke="#000" stroke-width="2.2"/>
<line x1="413.5" y1="650.5" x2="383.5" y2="674.3" stroke="#000" stroke-width="2.2"/>
<line x1="410.2" y1="665.6" x2="331" y2="709" stroke="#000" stroke-width="2.2"/>
<line x1="407.3" y1="687.5" x2="331" y2="709" stroke="#000" stroke-width="2.2"/>
<line x1="399.2" y1="708.5" x2="331" y2="709" stroke="#000" stroke-width="2.2"/>
<line x1="399.2" y1="727.7" x2="331" y2="709" stroke="#000" stroke-width="2.2"/>
<line x1="398.5" y1="744.8" x2="331" y2="709" stroke="#000" stroke-width="2.2"/>
<text x="304.8" y="553.3" font-size="14.5" text-anchor="start" fill="#4a9a3c" textLength="35.2" lengthAdjust="spacingAndGlyphs"  stroke="#4a9a3c" stroke-width="0.22">Nlrx1</text>
<text x="355.5" y="586.3" font-size="14.5" text-anchor="start" fill="#4a9a3c" textLength="29.5" lengthAdjust="spacingAndGlyphs"  stroke="#4a9a3c" stroke-width="0.22">F11r</text>
<text x="389.5" y="600.4" font-size="14.5" text-anchor="start" fill="#4a9a3c" textLength="37.9" lengthAdjust="spacingAndGlyphs"  stroke="#4a9a3c" stroke-width="0.22">Gvin1</text>
<text x="413.7" y="646.3" font-size="14.5" text-anchor="start" fill="#4a9a3c" textLength="25.3" lengthAdjust="spacingAndGlyphs"  stroke="#4a9a3c" stroke-width="0.22">Vwf</text>
<text x="412.8" y="670.6" font-size="14.5" text-anchor="start" fill="#4a9a3c" textLength="36.2" lengthAdjust="spacingAndGlyphs"  stroke="#4a9a3c" stroke-width="0.22">Ligp1</text>
<text x="415" y="687.3" font-size="14.5" text-anchor="start" fill="#4a9a3c" textLength="42.5" lengthAdjust="spacingAndGlyphs"  stroke="#4a9a3c" stroke-width="0.22">Itga2b</text>
<text x="401.5" y="709.7" font-size="14.5" text-anchor="start" fill="#4a9a3c" textLength="49.5" lengthAdjust="spacingAndGlyphs"  stroke="#4a9a3c" stroke-width="0.22">Casp12</text>
<text x="401.5" y="730.8" font-size="14.5" text-anchor="start" fill="#4a9a3c" textLength="37.3" lengthAdjust="spacingAndGlyphs"  stroke="#4a9a3c" stroke-width="0.22">Gbp5</text>
<text x="404.8" y="753" font-size="14.5" text-anchor="start" fill="#4a9a3c" textLength="34.4" lengthAdjust="spacingAndGlyphs"  stroke="#4a9a3c" stroke-width="0.22">Itgb3</text>
<text x="130.9" y="638.3" font-size="14.5" text-anchor="start" fill="#e03c2c" textLength="48.3" lengthAdjust="spacingAndGlyphs"  stroke="#e03c2c" stroke-width="0.22">Atp1b1</text>
<line x1="68.8" y1="478.2" x2="68.8" y2="771.8" stroke="#000" stroke-width="1.7"/>
<line x1="63.6" y1="771" x2="506.8" y2="771" stroke="#000" stroke-width="1.7"/>
<line x1="63.6" y1="771.1" x2="68.8" y2="771.1" stroke="#000" stroke-width="1.5"/>
<line x1="63.6" y1="742.3" x2="68.8" y2="742.3" stroke="#000" stroke-width="1.5"/>
<line x1="63.6" y1="713.4" x2="68.8" y2="713.4" stroke="#000" stroke-width="1.5"/>
<line x1="63.6" y1="684.6" x2="68.8" y2="684.6" stroke="#000" stroke-width="1.5"/>
<line x1="63.6" y1="655.7" x2="68.8" y2="655.7" stroke="#000" stroke-width="1.5"/>
<line x1="63.6" y1="626.9" x2="68.8" y2="626.9" stroke="#000" stroke-width="1.5"/>
<line x1="63.6" y1="598.1" x2="68.8" y2="598.1" stroke="#000" stroke-width="1.5"/>
<line x1="63.6" y1="569.2" x2="68.8" y2="569.2" stroke="#000" stroke-width="1.5"/>
<line x1="63.6" y1="540.4" x2="68.8" y2="540.4" stroke="#000" stroke-width="1.5"/>
<line x1="63.6" y1="511.5" x2="68.8" y2="511.5" stroke="#000" stroke-width="1.5"/>
<line x1="63.6" y1="482.7" x2="68.8" y2="482.7" stroke="#000" stroke-width="1.5"/>
<text x="57.8" y="775.5" font-size="15.2" text-anchor="end" fill="#111"  stroke="#111" stroke-width="0.22">0</text>
<text x="57.8" y="631.3" font-size="15.2" text-anchor="end" fill="#111"  stroke="#111" stroke-width="0.22">5</text>
<text x="57.8" y="487.1" font-size="15.2" text-anchor="end" fill="#111"  stroke="#111" stroke-width="0.22">10</text>
<line x1="94.1" y1="771" x2="94.1" y2="776.4" stroke="#000" stroke-width="1.5"/>
<text x="94.1" y="794.8" font-size="15.2" text-anchor="middle" fill="#111"  stroke="#111" stroke-width="0.22">−4</text>
<line x1="195.9" y1="771" x2="195.9" y2="776.4" stroke="#000" stroke-width="1.5"/>
<text x="195.9" y="794.8" font-size="15.2" text-anchor="middle" fill="#111"  stroke="#111" stroke-width="0.22">−2</text>
<line x1="297.7" y1="771" x2="297.7" y2="776.4" stroke="#000" stroke-width="1.5"/>
<text x="297.7" y="794.8" font-size="15.2" text-anchor="middle" fill="#111"  stroke="#111" stroke-width="0.22">0</text>
<line x1="399.5" y1="771" x2="399.5" y2="776.4" stroke="#000" stroke-width="1.5"/>
<text x="399.5" y="794.8" font-size="15.2" text-anchor="middle" fill="#111"  stroke="#111" stroke-width="0.22">2</text>
<line x1="501.3" y1="771" x2="501.3" y2="776.4" stroke="#000" stroke-width="1.5"/>
<text x="501.3" y="794.8" font-size="15.2" text-anchor="middle" fill="#111"  stroke="#111" stroke-width="0.22">4</text>
<text x="288" y="819.5" font-size="18.4" text-anchor="middle" fill="#1a1a1a" textLength="106.4" lengthAdjust="spacingAndGlyphs" stroke="#1a1a1a" stroke-width="0.22">Log<tspan font-size="13.5" dy="4.1">2</tspan><tspan dy="-4.1"> Fold change</tspan></text>
<text transform="translate(26.9,624) rotate(-90)" font-size="16" text-anchor="middle" fill="#1a1a1a" textLength="111.8" lengthAdjust="spacingAndGlyphs" stroke="#1a1a1a" stroke-width="0.22">−log<tspan font-size="11" dy="3.2">10</tspan><tspan dy="-3.2"> adj. </tspan><tspan font-style="italic">P</tspan>-value</text>
<text x="148.6" y="471.5" font-size="16.2" text-anchor="middle" fill="#111" textLength="148.2" lengthAdjust="spacingAndGlyphs"  stroke="#111" stroke-width="0.22">Down-regulated in</text>
<text x="90.2" y="493" font-size="17.5" fill="#111" font-style="italic" textLength="34.6" lengthAdjust="spacingAndGlyphs" stroke="#111" stroke-width="0.22">Cul5</text>
<text x="126.6" y="487.3" font-size="12.5" fill="#111" font-style="italic" textLength="20" lengthAdjust="spacingAndGlyphs" stroke="#111" stroke-width="0.22">fl/fl</text>
<text x="151.6" y="493" font-size="17.5" fill="#111" font-style="italic" textLength="58.8" lengthAdjust="spacingAndGlyphs" stroke="#111" stroke-width="0.22">VavCre</text>
<text x="371.4" y="493" font-size="17.5" fill="#111" font-style="italic" textLength="34.6" lengthAdjust="spacingAndGlyphs" stroke="#111" stroke-width="0.22">Cul5</text>
<text x="407.8" y="487.3" font-size="12.5" fill="#111" font-style="italic" textLength="20" lengthAdjust="spacingAndGlyphs" stroke="#111" stroke-width="0.22">fl/fl</text>
<text x="432.8" y="493" font-size="17.5" fill="#111" font-style="italic" textLength="58.8" lengthAdjust="spacingAndGlyphs" stroke="#111" stroke-width="0.22">VavCre</text>
<text x="430.6" y="471.5" font-size="16.2" text-anchor="middle" fill="#111" textLength="125.3" lengthAdjust="spacingAndGlyphs"  stroke="#111" stroke-width="0.22">Up-regulated in</text>
<text x="17.2" y="449.8" font-size="21.5" text-anchor="start" fill="#000" font-weight="bold" stroke="#000" stroke-width="0.22">B</text>
<text x="12" y="874.4" font-size="21.5" text-anchor="start" fill="#000" font-weight="bold" stroke="#000" stroke-width="0.22">C</text>
<text x="249" y="873.4" font-size="14.8" text-anchor="middle" fill="#111" textLength="78" lengthAdjust="spacingAndGlyphs"  stroke="#111" stroke-width="0.22">Suppressed</text>
<text x="369.6" y="873.4" font-size="14.8" text-anchor="middle" fill="#111" textLength="63.3" lengthAdjust="spacingAndGlyphs"  stroke="#111" stroke-width="0.22">Activated</text>
<rect x="297.3" y="900.9" width="105.0" height="20.7" fill="#35973a"/>
<line x1="195.6" y1="911.2" x2="201" y2="911.2" stroke="#000" stroke-width="1.5"/>
<text x="190" y="915.8" font-size="15" text-anchor="end" fill="#111" textLength="145.5" lengthAdjust="spacingAndGlyphs"  stroke="#111" stroke-width="0.22">Interferon-α response</text>
<rect x="297.3" y="933.4" width="82.8" height="20.7" fill="#35973a"/>
<line x1="195.6" y1="943.7" x2="201" y2="943.7" stroke="#000" stroke-width="1.5"/>
<text x="190" y="948.3" font-size="15" text-anchor="end" fill="#111" textLength="142.7" lengthAdjust="spacingAndGlyphs"  stroke="#111" stroke-width="0.22">Interferon-γ response</text>
<rect x="297.3" y="965.9" width="75.6" height="20.7" fill="#35973a"/>
<line x1="195.6" y1="976.2" x2="201" y2="976.2" stroke="#000" stroke-width="1.5"/>
<text x="190" y="980.8" font-size="15" text-anchor="end" fill="#111" textLength="164" lengthAdjust="spacingAndGlyphs"  stroke="#111" stroke-width="0.22">Cholesterol homeostasis</text>
<rect x="297.3" y="998.4" width="67.9" height="20.7" fill="#35973a"/>
<line x1="195.6" y1="1008.7" x2="201" y2="1008.7" stroke="#000" stroke-width="1.5"/>
<text x="190" y="1013.3" font-size="15" text-anchor="end" fill="#111" textLength="131.6" lengthAdjust="spacingAndGlyphs"  stroke="#111" stroke-width="0.22">JAK-STAT signaling</text>
<rect x="297.3" y="1030.9" width="66.4" height="20.7" fill="#35973a"/>
<line x1="195.6" y1="1041.2" x2="201" y2="1041.2" stroke="#000" stroke-width="1.5"/>
<text x="190" y="1045.8" font-size="15" text-anchor="end" fill="#111" textLength="151.8" lengthAdjust="spacingAndGlyphs"  stroke="#111" stroke-width="0.22">Inflammatory response</text>
<rect x="218.3" y="1063.4" width="79.0" height="20.7" fill="#e63a1e"/>
<line x1="195.6" y1="1073.7" x2="201" y2="1073.7" stroke="#000" stroke-width="1.5"/>
<text x="190" y="1078.3" font-size="15" text-anchor="end" fill="#111" textLength="176.9" lengthAdjust="spacingAndGlyphs"  stroke="#111" stroke-width="0.22">Oxidative phosphorylation</text>
<rect x="215.0" y="1095.9" width="82.3" height="20.7" fill="#e63a1e"/>
<line x1="195.6" y1="1106.2" x2="201" y2="1106.2" stroke="#000" stroke-width="1.5"/>
<text x="190" y="1110.8" font-size="15" text-anchor="end" fill="#111" textLength="90" lengthAdjust="spacingAndGlyphs"  stroke="#111" stroke-width="0.22">ROS pathway</text>
<line x1="201.1" y1="888.8" x2="201.1" y2="1129" stroke="#000" stroke-width="1.7"/>
<line x1="200.3" y1="1128.3" x2="444.4" y2="1128.3" stroke="#000" stroke-width="1.7"/>
<line x1="297.4" y1="888.8" x2="297.4" y2="1128.3" stroke="#000" stroke-width="1.3"/>
<line x1="201.0" y1="1128.3" x2="201.0" y2="1133" stroke="#000" stroke-width="1.5"/>
<text x="200.0" y="1151.7" font-size="14.5" text-anchor="middle" fill="#111"  stroke="#111" stroke-width="0.22">−2</text>
<line x1="249.2" y1="1128.3" x2="249.2" y2="1133" stroke="#000" stroke-width="1.5"/>
<text x="248.2" y="1151.7" font-size="14.5" text-anchor="middle" fill="#111"  stroke="#111" stroke-width="0.22">−1</text>
<line x1="297.3" y1="1128.3" x2="297.3" y2="1133" stroke="#000" stroke-width="1.5"/>
<text x="297.3" y="1151.7" font-size="14.5" text-anchor="middle" fill="#111"  stroke="#111" stroke-width="0.22">0</text>
<line x1="345.4" y1="1128.3" x2="345.4" y2="1133" stroke="#000" stroke-width="1.5"/>
<text x="345.4" y="1151.7" font-size="14.5" text-anchor="middle" fill="#111"  stroke="#111" stroke-width="0.22">1</text>
<line x1="393.6" y1="1128.3" x2="393.6" y2="1133" stroke="#000" stroke-width="1.5"/>
<text x="393.6" y="1151.7" font-size="14.5" text-anchor="middle" fill="#111"  stroke="#111" stroke-width="0.22">2</text>
<line x1="441.8" y1="1128.3" x2="441.8" y2="1133" stroke="#000" stroke-width="1.5"/>
<text x="441.8" y="1151.7" font-size="14.5" text-anchor="middle" fill="#111"  stroke="#111" stroke-width="0.22">3</text>
<text x="324.8" y="1176.8" font-size="17.5" text-anchor="middle" fill="#1a1a1a" textLength="184.3" lengthAdjust="spacingAndGlyphs"  stroke="#1a1a1a" stroke-width="0.22">Normalised enrichment score</text>
<rect x="0.6" y="0.6" width="518.8" height="1187.8" fill="none" stroke="#000" stroke-width="1.3"/>
</svg>
</body></html>
